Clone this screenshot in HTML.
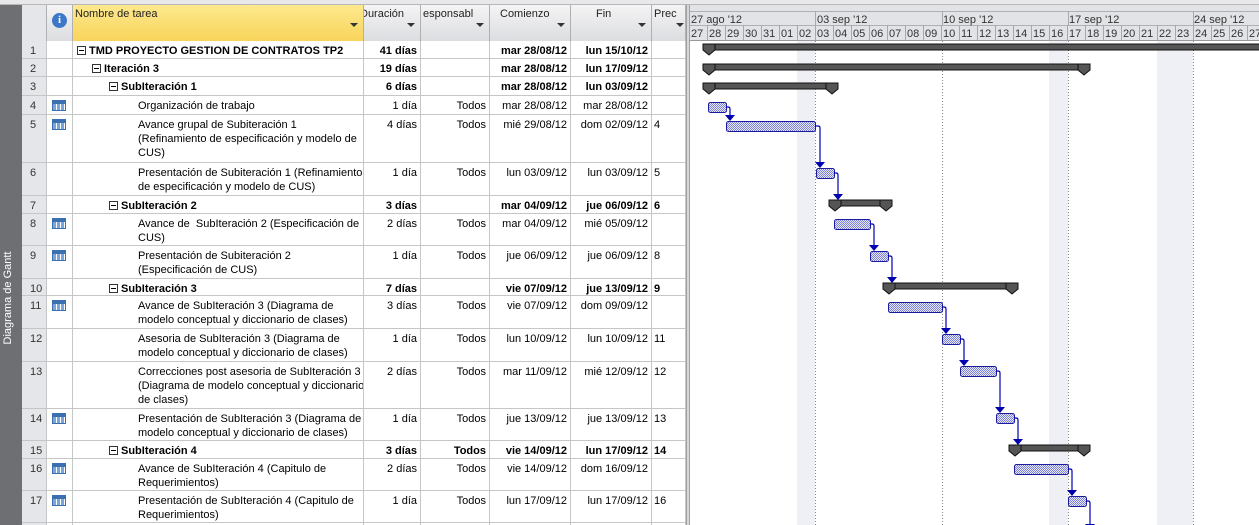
<!DOCTYPE html>
<html style="overflow:hidden;width:1259px;height:525px"><head><meta charset="utf-8"><style>
*{margin:0;padding:0;box-sizing:border-box}
body{width:1259px;height:525px;overflow:hidden;background:#fff;font-family:"Liberation Sans",Arial,sans-serif;font-size:11px;color:#000;position:relative}
.a{position:absolute}
.row{position:absolute;left:22px;width:664px;border-bottom:1px solid #c6c6c6}
.c{position:absolute;top:0;bottom:0;border-right:1px solid #c6c6c6;padding-top:3px;line-height:14px;white-space:nowrap;overflow:hidden}
.n{left:0;width:25px;background:#e4e6ea;color:#333;padding-left:8px}
.i{left:25px;width:26px}
.t{left:51px;width:291px}
.d{left:342px;width:57px;text-align:right;padding-right:3px}
.r{left:399px;width:69px;text-align:right;padding-right:3px}
.s{left:468px;width:81px;text-align:right;padding-right:3px}
.f{left:549px;width:81px;text-align:right;padding-right:3px}
.p{left:630px;width:34px;padding-left:2px}
.b{font-weight:bold}
.bx{display:inline-block;width:9px;height:9px;border:1px solid #333;position:relative;vertical-align:-1px;margin-right:3px}
.bx:after{content:"";position:absolute;left:1px;right:1px;top:3px;height:1px;background:#000}
.ic{position:absolute;left:5px;top:4px;width:14px;height:11px;border:1px solid #3a6fb0;background:repeating-linear-gradient(90deg,#7aa5d8 0 3px,#fff 3px 4px);}
.ic:before{content:"";position:absolute;left:0;right:0;top:0;height:3px;background:#3a6fb0}
.hd{position:absolute;top:5px;height:36px;border-right:1px solid #b0b0b0;background:linear-gradient(#f4f4f5,#dcdde0);padding:3px 2px;white-space:nowrap;overflow:hidden;color:#222}
.dd{position:absolute;right:5px;top:18px;width:0;height:0;border-left:4px solid transparent;border-right:4px solid transparent;border-top:4px solid #333}
</style></head><body>
<div class="a" style="left:0;top:0;width:1259px;height:5px;background:#e8e8ea;border-bottom:1px solid #b8b8b8"></div>
<div class="a" style="left:0;top:5px;width:22px;height:520px;background:#6d6f73"></div>
<div class="a" style="left:-40px;top:290px;width:100px;height:16px;transform:rotate(-90deg);color:#fff;font-size:11px;text-align:center">Diagrama de Gantt</div>
<div class="hd" style="left:22px;width:25px;background:#e4e6ea"></div>
<div class="hd" style="left:47px;width:26px"><div style="position:absolute;left:5px;top:8px;width:15px;height:15px;border-radius:50%;background:#3d78c8;color:#fff;font-weight:bold;font-size:11px;text-align:center;line-height:15px;font-family:'Liberation Serif',serif">i</div></div>
<div class="hd" style="left:73px;width:291px;background:linear-gradient(#fde98e,#f8d45a)">Nombre de tarea<div class="dd"></div></div>
<div class="hd" style="left:364px;width:57px;text-indent:-6px">Duración<div class="dd"></div></div>
<div class="hd" style="left:421px;width:69px">esponsabl<div class="dd"></div></div>
<div class="hd" style="left:490px;width:81px;padding-left:10px">Comienzo<div class="dd"></div></div>
<div class="hd" style="left:571px;width:81px;padding-left:25px">Fin<div class="dd"></div></div>
<div class="hd" style="left:652px;width:34px">Prec<div class="dd" style="right:1px"></div></div>
<div class="a" style="left:686px;top:5px;width:4px;height:520px;background:#d6d7da;border-left:1px solid #a0a0a0;border-right:1px solid #a0a0a0"></div>
<div class="a" style="left:22px;top:41px;width:25px;height:484px;background:#e4e6ea"></div>

<div class="row" style="top:41px;height:18px"><div class="c n">1</div><div class="c i"></div><div class="c t b" style="padding-left:4px"><span class="bx"></span>TMD PROYECTO GESTION DE CONTRATOS TP2</div><div class="c d b">41 días</div><div class="c r"></div><div class="c s b">mar 28/08/12</div><div class="c f b">lun 15/10/12</div><div class="c p"></div></div>
<div class="row" style="top:59px;height:18px"><div class="c n">2</div><div class="c i"></div><div class="c t b" style="padding-left:19px"><span class="bx"></span>Iteración 3</div><div class="c d b">19 días</div><div class="c r"></div><div class="c s b">mar 28/08/12</div><div class="c f b">lun 17/09/12</div><div class="c p"></div></div>
<div class="row" style="top:77px;height:19px"><div class="c n">3</div><div class="c i"></div><div class="c t b" style="padding-left:36px"><span class="bx"></span>SubIteración 1</div><div class="c d b">6 días</div><div class="c r"></div><div class="c s b">mar 28/08/12</div><div class="c f b">lun 03/09/12</div><div class="c p"></div></div>
<div class="row" style="top:96px;height:19px"><div class="c n">4</div><div class="c i"><div class="ic"></div></div><div class="c t" style="padding-left:65px">Organización de trabajo</div><div class="c d">1 día</div><div class="c r">Todos</div><div class="c s">mar 28/08/12</div><div class="c f">mar 28/08/12</div><div class="c p"></div></div>
<div class="row" style="top:115px;height:48px"><div class="c n">5</div><div class="c i"><div class="ic"></div></div><div class="c t" style="padding-left:65px">Avance grupal de Subiteración 1<br>(Refinamiento de especificación y modelo de<br>CUS)</div><div class="c d">4 días</div><div class="c r">Todos</div><div class="c s">mié 29/08/12</div><div class="c f">dom 02/09/12</div><div class="c p">4</div></div>
<div class="row" style="top:163px;height:33px"><div class="c n">6</div><div class="c i"></div><div class="c t" style="padding-left:65px">Presentación de Subiteración 1 (Refinamiento<br>de especificación y modelo de CUS)</div><div class="c d">1 día</div><div class="c r">Todos</div><div class="c s">lun 03/09/12</div><div class="c f">lun 03/09/12</div><div class="c p">5</div></div>
<div class="row" style="top:196px;height:18px"><div class="c n">7</div><div class="c i"></div><div class="c t b" style="padding-left:36px"><span class="bx"></span>SubIteración 2</div><div class="c d b">3 días</div><div class="c r"></div><div class="c s b">mar 04/09/12</div><div class="c f b">jue 06/09/12</div><div class="c p b">6</div></div>
<div class="row" style="top:214px;height:32px"><div class="c n">8</div><div class="c i"><div class="ic"></div></div><div class="c t" style="padding-left:65px">Avance de &nbsp;SubIteración 2 (Especificación de<br>CUS)</div><div class="c d">2 días</div><div class="c r">Todos</div><div class="c s">mar 04/09/12</div><div class="c f">mié 05/09/12</div><div class="c p"></div></div>
<div class="row" style="top:246px;height:33px"><div class="c n">9</div><div class="c i"><div class="ic"></div></div><div class="c t" style="padding-left:65px">Presentación de Subiteración 2<br>(Especificación de CUS)</div><div class="c d">1 día</div><div class="c r">Todos</div><div class="c s">jue 06/09/12</div><div class="c f">jue 06/09/12</div><div class="c p">8</div></div>
<div class="row" style="top:279px;height:17px"><div class="c n">10</div><div class="c i"></div><div class="c t b" style="padding-left:36px"><span class="bx"></span>SubIteración 3</div><div class="c d b">7 días</div><div class="c r"></div><div class="c s b">vie 07/09/12</div><div class="c f b">jue 13/09/12</div><div class="c p b">9</div></div>
<div class="row" style="top:296px;height:33px"><div class="c n">11</div><div class="c i"><div class="ic"></div></div><div class="c t" style="padding-left:65px">Avance de SubIteración 3 (Diagrama de<br>modelo conceptual y diccionario de clases)</div><div class="c d">3 días</div><div class="c r">Todos</div><div class="c s">vie 07/09/12</div><div class="c f">dom 09/09/12</div><div class="c p"></div></div>
<div class="row" style="top:329px;height:33px"><div class="c n">12</div><div class="c i"></div><div class="c t" style="padding-left:65px">Asesoria de SubIteración 3 (Diagrama de<br>modelo conceptual y diccionario de clases)</div><div class="c d">1 día</div><div class="c r">Todos</div><div class="c s">lun 10/09/12</div><div class="c f">lun 10/09/12</div><div class="c p">11</div></div>
<div class="row" style="top:362px;height:47px"><div class="c n">13</div><div class="c i"></div><div class="c t" style="padding-left:65px">Correcciones post asesoria de SubIteración 3<br>(Diagrama de modelo conceptual y diccionario<br>de clases)</div><div class="c d">2 días</div><div class="c r">Todos</div><div class="c s">mar 11/09/12</div><div class="c f">mié 12/09/12</div><div class="c p">12</div></div>
<div class="row" style="top:409px;height:32px"><div class="c n">14</div><div class="c i"><div class="ic"></div></div><div class="c t" style="padding-left:65px">Presentación de SubIteración 3 (Diagrama de<br>modelo conceptual y diccionario de clases)</div><div class="c d">1 día</div><div class="c r">Todos</div><div class="c s">jue 13/09/12</div><div class="c f">jue 13/09/12</div><div class="c p">13</div></div>
<div class="row" style="top:441px;height:18px"><div class="c n">15</div><div class="c i"></div><div class="c t b" style="padding-left:36px"><span class="bx"></span>SubIteración 4</div><div class="c d b">3 días</div><div class="c r b">Todos</div><div class="c s b">vie 14/09/12</div><div class="c f b">lun 17/09/12</div><div class="c p b">14</div></div>
<div class="row" style="top:459px;height:32px"><div class="c n">16</div><div class="c i"><div class="ic"></div></div><div class="c t" style="padding-left:65px">Avance de SubIteración 4 (Capitulo de<br>Requerimientos)</div><div class="c d">2 días</div><div class="c r">Todos</div><div class="c s">vie 14/09/12</div><div class="c f">dom 16/09/12</div><div class="c p"></div></div>
<div class="row" style="top:491px;height:32px"><div class="c n">17</div><div class="c i"><div class="ic"></div></div><div class="c t" style="padding-left:65px">Presentación de SubIteración 4 (Capitulo de<br>Requerimientos)</div><div class="c d">1 día</div><div class="c r">Todos</div><div class="c s">lun 17/09/12</div><div class="c f">lun 17/09/12</div><div class="c p">16</div></div>
<div class="row" style="top:523px;height:2px;border-bottom:none"><div class="c n"></div><div class="c i"></div><div class="c t"></div><div class="c d"></div><div class="c r"></div><div class="c s"></div><div class="c f"></div><div class="c p"></div></div>

<svg class="a" style="left:690px;top:5px" width="569" height="520" viewBox="690 5 569 520" font-family="Liberation Sans, Arial, sans-serif" font-size="11">
<defs><pattern id="h" width="2" height="2" patternUnits="userSpaceOnUse"><rect width="2" height="2" fill="#e6e8f8"/><rect width="1" height="1" fill="#7d82d6"/><rect x="1" y="1" width="1" height="1" fill="#7d82d6"/></pattern></defs>
<rect x="690" y="5" width="569" height="36" fill="#e2e3e7"/>
<rect x="797" y="41" width="18" height="484" fill="#eef0f5"/>
<rect x="1049" y="41" width="19" height="484" fill="#eef0f5"/>
<rect x="1157" y="41" width="36" height="484" fill="#eef0f5"/>
<g stroke="#888" stroke-dasharray="1,2"><line x1="815.5" y1="41" x2="815.5" y2="525"/><line x1="942.5" y1="41" x2="942.5" y2="525"/><line x1="1068.5" y1="41" x2="1068.5" y2="525"/><line x1="1193.5" y1="41" x2="1193.5" y2="525"/></g>
<line x1="690" y1="11.5" x2="1259" y2="11.5" stroke="#b0b0b0"/>
<line x1="690" y1="25.5" x2="1259" y2="25.5" stroke="#b0b0b0"/>
<line x1="690" y1="40.5" x2="1259" y2="40.5" stroke="#9a9a9a"/>
<g stroke="#a8a8a8"><line x1="815.5" y1="11" x2="815.5" y2="25"/><line x1="942.5" y1="11" x2="942.5" y2="25"/><line x1="1068.5" y1="11" x2="1068.5" y2="25"/><line x1="1193.5" y1="11" x2="1193.5" y2="25"/></g>
<g fill="#333"><text x="691" y="23">27 ago '12</text><text x="817" y="23">03 sep '12</text><text x="943" y="23">10 sep '12</text><text x="1069" y="23">17 sep '12</text><text x="1194" y="23">24 sep '12</text></g>
<g id="days" fill="#333"></g>
<g stroke="#a8a8a8" id="dl"></g>
<g fill="#555" stroke="#111" stroke-width="1" id="sum"></g>
<g fill="url(#h)" stroke="#1a1aa0" id="tk"></g>
<g stroke="#0000b0" fill="none" stroke-width="1.2" id="ln"></g>
<g fill="#0000b0" id="ar"></g>
</svg>
<script>
var NS="http://www.w3.org/2000/svg";
function el(g,t,a,txt){var e=document.createElementNS(NS,t);for(var k in a)e.setAttribute(k,a[k]);if(txt)e.textContent=txt;document.getElementById(g).appendChild(e);}
var d=[27,28,29,30,31,1,2,3,4,5,6,7,8,9,10,11,12,13,14,15,16,17,18,19,20,21,22,23,24,25,26,27,28];
for(var i=0;i<d.length;i++){var x=689+18*i;el("days","text",{x:x+2,y:37},(d[i]<10?"0":"")+d[i]);el("dl","line",{x1:x+.5,y1:25,x2:x+.5,y2:40});}
[[703,1270,47],[703,1090,67],[703,838,86],[829,892,203],[883,1018,286],[1009,1090,448]].forEach(function(s){
var a=s[0],b=s[1],c=s[2];el("sum","rect",{x:a,y:c-3,width:b-a,height:6});
el("sum","polygon",{points:[a,c-3,a+12,c-3,a+12,c+3,a+6,c+8,a,c+3].join(",")});
if(b<1259)el("sum","polygon",{points:[b-12,c-3,b,c-3,b,c+3,b-6,c+8,b-12,c+3].join(",")});});
[[708,726,102],[726,815,121],[816,834,168],[834,870,219],[870,888,251],[888,942,302],[942,960,334],[960,996,366],[996,1014,413],[1014,1068,464],[1068,1086,496]].forEach(function(t){
el("tk","rect",{x:t[0]+.5,y:t[2]+.5,width:t[1]-t[0],height:10,rx:2});});
[[726,107,730,121],[815,126,820,168],[834,173,838,200],[870,224,874,251],[888,256,892,283],[942,307,946,334],[960,339,964,366],[996,371,1000,413],[1014,418,1018,445],[1068,469,1072,496],[1086,501,1090,530]].forEach(function(l){
el("ln","path",{d:"M"+l[0]+" "+l[1]+" H"+(l[2]-2)+" Q"+l[2]+" "+l[1]+" "+l[2]+" "+(l[1]+2)+" V"+(l[3]-4)});
el("ar","polygon",{points:[l[2]-5,l[3]-6,l[2]+5,l[3]-6,l[2],l[3]].join(",")});});
</script>
</body></html>
